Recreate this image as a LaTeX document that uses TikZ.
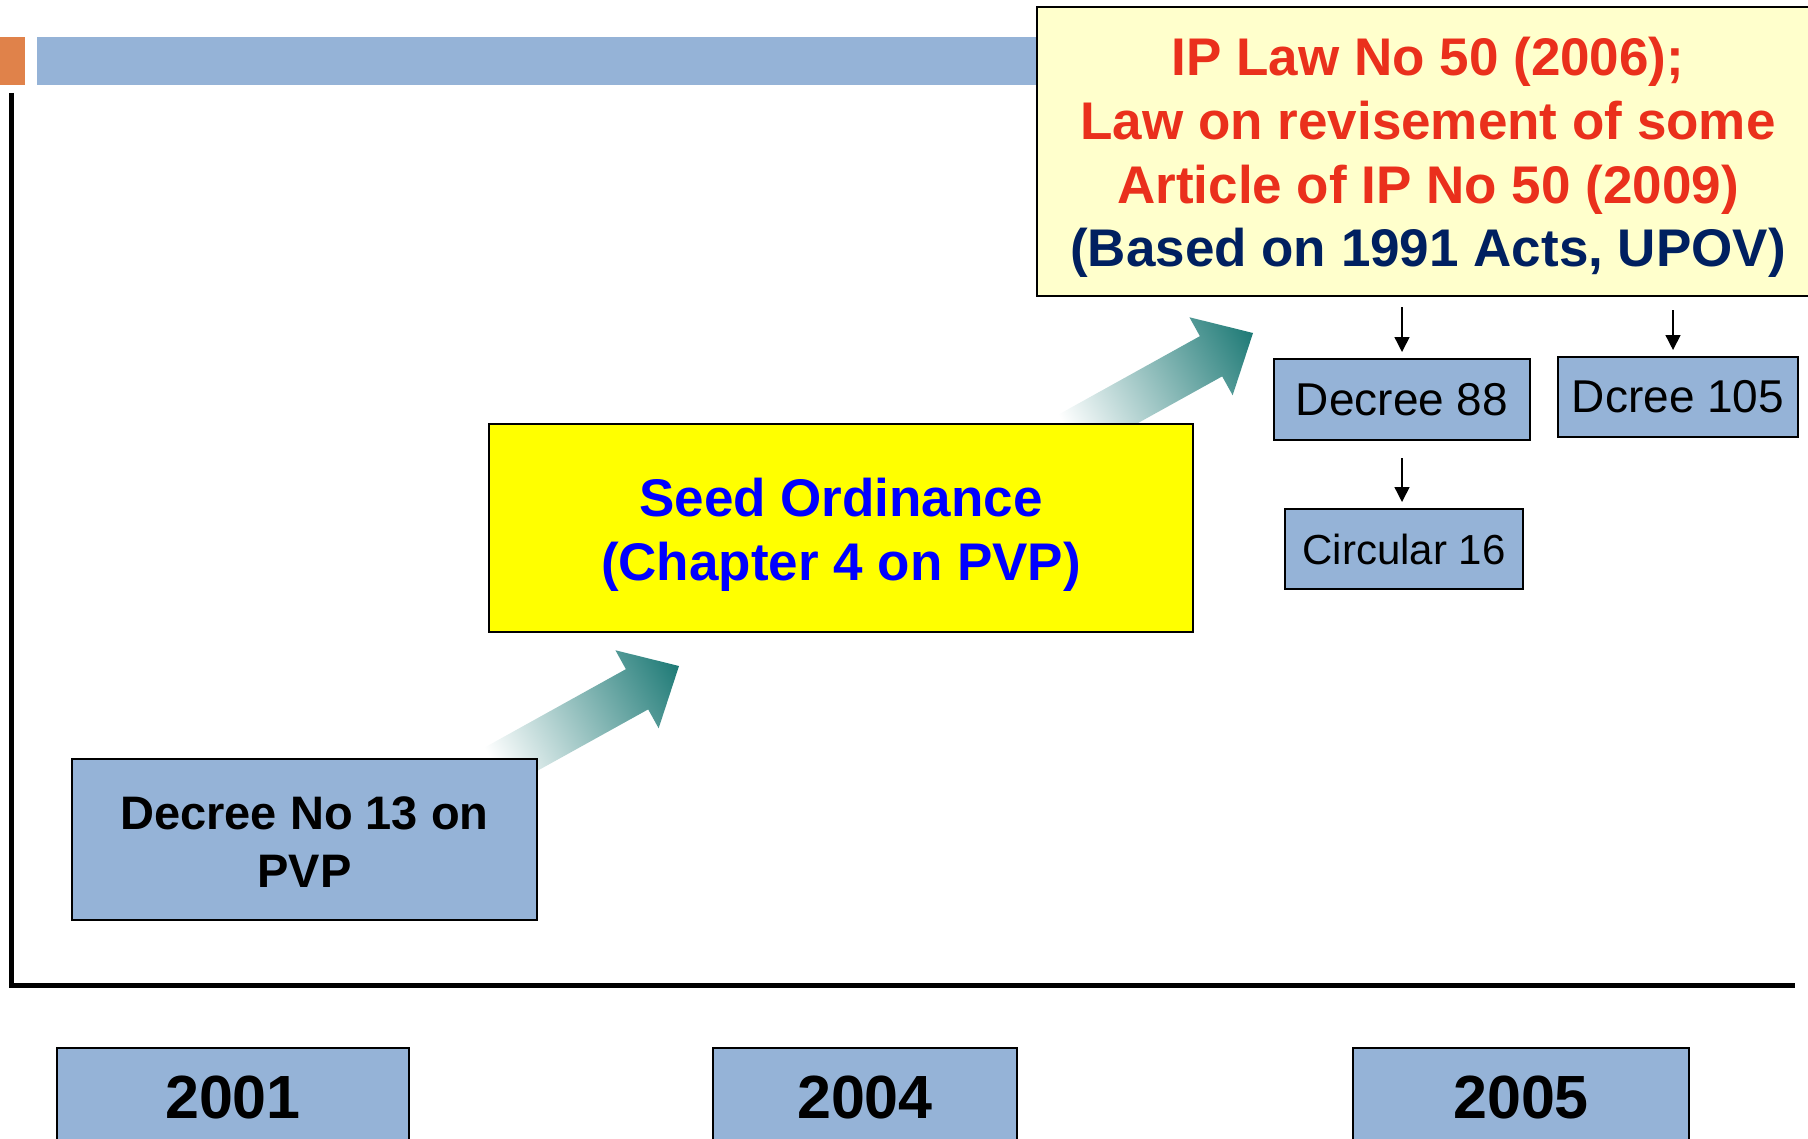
\documentclass[tikz,border=0pt]{standalone}
\usepackage{fontspec}
\setmainfont{Liberation Sans}
\usetikzlibrary{arrows.meta}

\definecolor{boxblue}{RGB}{149,179,215}
\definecolor{barorange}{RGB}{224,130,74}
\definecolor{lawyellow}{RGB}{255,255,204}
\definecolor{seedyellow}{RGB}{255,255,0}
\definecolor{lawred}{RGB}{234,48,28}
\definecolor{lawnavy}{RGB}{0,32,96}
\definecolor{arrowteal}{RGB}{30,122,118}

\tikzset{
  lawbox/.style={draw, line width=1pt, inner sep=0pt, align=center},
  bluebox/.style={lawbox, fill=boxblue},
  yearbox/.style={bluebox, font=\fontsize{30.5pt}{36pt}\selectfont\bfseries},
  downarrow/.style={line width=0.75pt, -{Triangle[length=7.5pt,width=7.5pt]}, shorten >=3pt},
}

\NewDocumentCommand{\trendarrow}{m}{%
\begin{scope}[transform canvas={shift={#1},rotate=29}]%
\shade[left color=white,right color=arrowteal] (-210,-23) -- (-48,-23) -- (-48,-44.6) -- (0,0)
  -- (-48,44.6) -- (-48,23) -- (-210,23) -- cycle;
\end{scope}%
}

\begin{document}
\begin{tikzpicture}[x=0.5pt,y=-0.5pt]
        \useasboundingbox (0,0) rectangle (1808,1139);
        % title bar
        \fill[barorange] (0,37) rectangle (25,85);
        \fill[boxblue] (37,37) rectangle (1040,85);
        % time axes
        \draw[line width=2.5pt] (11,93) |- (1795,985);

        % trend arrows
        \trendarrow{(679,666)}
        \trendarrow{(1253,333)}

        % laws
        \node[lawbox, fill=lawyellow, minimum width=391pt, minimum height=144.5pt,
              font=\fontsize{26.5pt}{31.85pt}\selectfont\bfseries] (law) at (1428,151.5)
              {\rule{0pt}{25.3pt}\textcolor{lawred}{IP Law No 50 (2006);}\\
               \textcolor{lawred}{Law on revisement of some}\\
               \textcolor{lawred}{Article of IP No 50 (2009)}\\
               \textcolor{lawnavy}{(Based on 1991 Acts, UPOV)}};
        \node[lawbox, fill=seedyellow, text=blue, minimum width=352pt, minimum height=104pt,
              font=\fontsize{26.5pt}{32pt}\selectfont\bfseries] (seed) at (841,528)
              {\rule{0pt}{25.6pt}Seed Ordinance\\(Chapter 4 on PVP)};
        \node[bluebox, minimum width=232.5pt, minimum height=80.5pt,
              font=\fontsize{23.5pt}{29pt}\selectfont\bfseries] (dec13) at (304.5,839.5)
              {\rule{0pt}{19.4pt}Decree No 13 on\\PVP};

        % decrees
        \node[bluebox, minimum width=128pt, minimum height=40.5pt,
              font=\fontsize{23pt}{28pt}\selectfont] (dec88) at (1402,399.5) {Decree 88};
        \node[bluebox, minimum width=120pt, minimum height=40pt,
              font=\fontsize{23pt}{28pt}\selectfont] (dec105) at (1678,397) {Dcree 105};
        \node[bluebox, minimum width=119pt, minimum height=40pt,
              font=\fontsize{21pt}{26pt}\selectfont] (circ16) at (1404,549) {Circular 16};
        \draw[downarrow, shorten <=5pt] (law.south -| dec88.north) -- (dec88.north);
        \draw[downarrow, shorten <=6.5pt] ([xshift=-2.5pt]law.south -| dec105.north) -- ([xshift=-2.5pt]dec105.north);
        \draw[downarrow, shorten <=8.5pt] (dec88.south) -- (dec88.south |- circ16.north);

        % years
        \node[yearbox, minimum width=176pt, minimum height=49.5pt] (y2001) at (233,1097.5) {2001};
        \node[yearbox, minimum width=152pt, minimum height=49.5pt] (y2004) at (865,1097.5) {2004};
        \node[yearbox, minimum width=168pt, minimum height=49.5pt] (y2005) at (1521,1097.5) {2005};
\end{tikzpicture}
\end{document}
